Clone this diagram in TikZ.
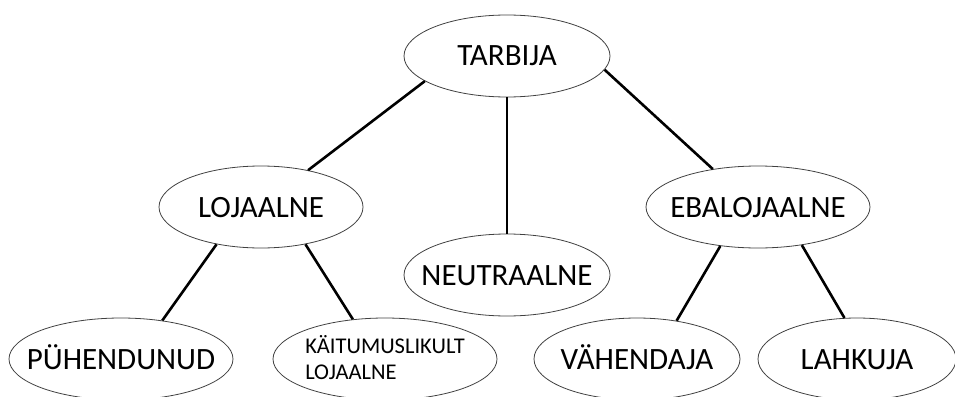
\documentclass[tikz,border=0pt]{standalone}
\usepackage{fontspec}
\setmainfont{Carlito}
\usetikzlibrary{shapes.geometric}

\begin{document}
\begin{tikzpicture}[x=1pt,y=-1pt,
    type/.style ={ellipse, draw=black!75, line width=0.8pt,
                  inner xsep=-30pt, inner ysep=0pt,
                  minimum height=82pt, text height=20pt, text depth=0pt,
                  font=\fontsize{31}{34}\selectfont},
    link/.style ={line width=2.6pt}]
   \path[use as bounding box, clip] (0,0) rectangle (955,396);

   \node[type, minimum width=206pt] (T) at (507,56)  {TARBIJA};
   \node[type, minimum width=204pt] (L) at (261,207) {LOJAALNE};
   \node[type, minimum width=206pt] (N) at (507,275) {NEUTRAALNE};
   \node[type, minimum width=224pt] (E) at (758,207) {EBALOJAALNE};
   \node[type, minimum width=224pt] (P) at (121,359) {PÜHENDUNUD};
   \node[type, minimum width=224pt, align=left, text height=40pt,
         font=\fontsize{22.5}{26}\selectfont] (K) at (385,359) {KÄITUMUSLIKULT\\LOJAALNE};
   \node[type, minimum width=206pt] (V) at (637,359) {VÄHENDAJA};
   \node[type, minimum width=198pt] (H) at (857,359) {LAHKUJA};

   \draw[link] (T.197) to (L.38);
   \draw[link] (T.south) to (N.north);
   \draw[link] (T.-8) to (E.140);
   \draw[link] (L.220) to (P.43);
   \draw[link] (L.-40) to (K.129);
   \draw[link] (E.226) to (V.44);
   \draw[link] (E.-41) to (H.107);
 \end{tikzpicture}
\end{document}
